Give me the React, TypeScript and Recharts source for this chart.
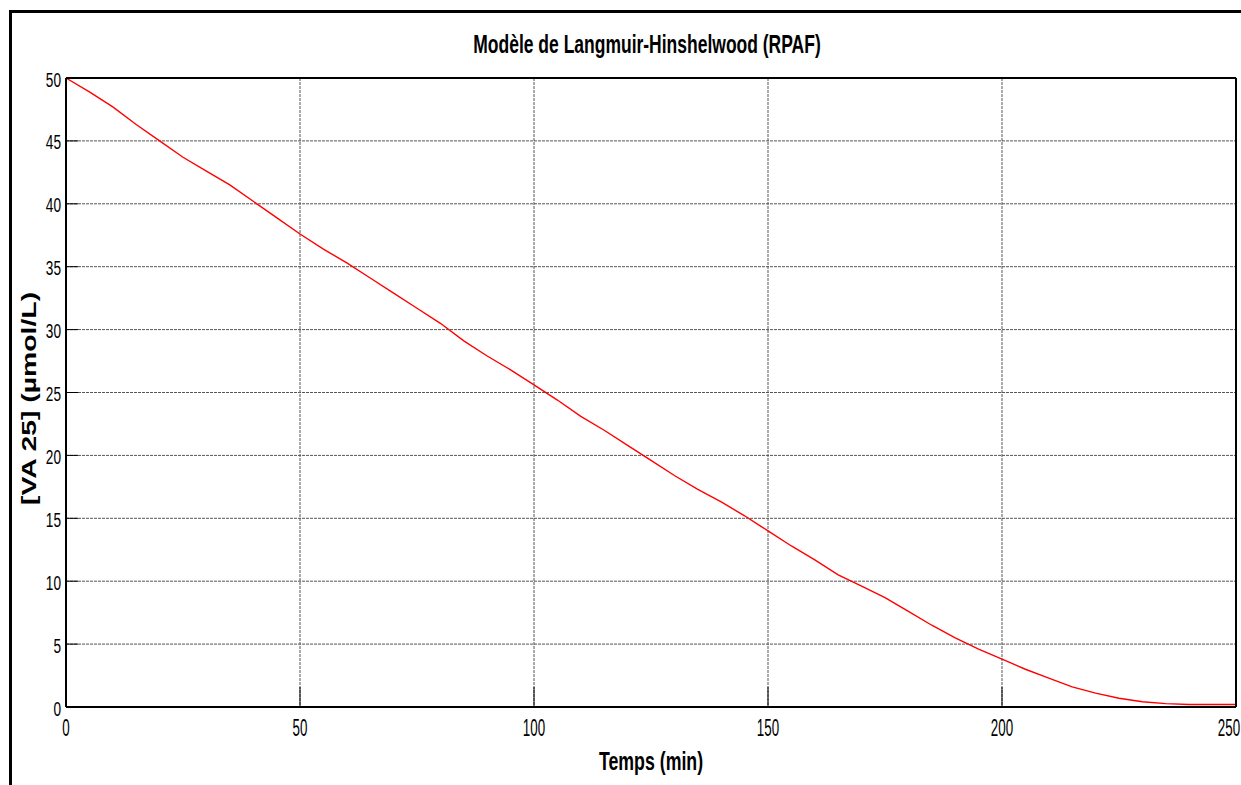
import { LineChart, Line, XAxis, YAxis, CartesianGrid, Label } from "recharts";

const times = [
  0, 5, 10, 15, 20, 25, 30, 35, 40, 45, 50, 55, 60, 65, 70, 75, 80, 85, 90, 95, 100, 105, 110, 115, 120, 125,
  130, 135, 140, 145, 150, 155, 160, 165, 170, 175, 180, 185, 190, 195, 200, 205, 210, 215, 220, 225, 230, 235,
  240, 245, 250,
];
const conc = [
  50, 48.9, 47.7, 46.3, 45.0, 43.7, 42.6, 41.5, 40.2, 38.9, 37.6, 36.4, 35.3, 34.1, 32.9, 31.7, 30.5, 29.1, 27.9,
  26.8, 25.6, 24.4, 23.1, 22.0, 20.8, 19.6, 18.4, 17.3, 16.3, 15.2, 14.0, 12.8, 11.7, 10.5, 9.6, 8.7, 7.6, 6.5, 5.5,
  4.6, 3.8, 3.0, 2.3, 1.6, 1.1, 0.7, 0.42, 0.27, 0.2, 0.2, 0.2,
];
const xTicks = [0, 50, 100, 150, 200, 250];
const yTicks = [0, 5, 10, 15, 20, 25, 30, 35, 40, 45, 50];

const data = times.map((t, i) => ({ t, c: conc[i] }));

const FONT = '"Liberation Sans", Arial, sans-serif';

const XTick = ({ x, y, payload }: any) => (
  <text transform={`translate(${x},${y}) scale(0.58,1)`} textAnchor="middle" fontFamily={FONT} fontSize={23} fill="#000">
    {payload.value}
  </text>
);

const YTick = ({ x, y, payload }: any) => (
  <text transform={`translate(${x},${y}) scale(0.65,1)`} textAnchor="end" dy={8.5} fontFamily={FONT} fontSize={21} fill="#000">
    {payload.value}
  </text>
);

const XTitle = ({ viewBox }: any) => (
  <text
    transform={`translate(${viewBox.x + viewBox.width / 2},${viewBox.y + 63}) scale(0.71,1)`}
    textAnchor="middle"
    fontFamily={FONT}
    fontWeight="bold"
    fontSize={25}
    fill="#000"
  >
    Temps (min)
  </text>
);

// y title: wide bold face, centred a little under the plot middle
const YTitle = ({ viewBox }: any) => (
  <text
    transform={`translate(28,${viewBox.y + viewBox.height / 2 + 6}) rotate(-90) scale(1.35,1)`}
    textAnchor="middle"
    dy={7.5}
    fontFamily={FONT}
    fontWeight="bold"
    fontSize={21}
    fill="#000"
  >
    [VA 25] (µmol/L)
  </text>
);

export default function App() {
  return (
    <div style={{ position: "absolute", left: 0, top: 0, width: 1241, height: 785, background: "#fff" }}>
      <LineChart width={1241} height={785} data={data} margin={{ top: 77, right: 4, bottom: 0, left: 0 }}>
        <CartesianGrid stroke="#555" strokeDasharray="3 1" strokeWidth={1} />
        <XAxis
          dataKey="t"
          type="number"
          domain={[0, 250]}
          ticks={xTicks}
          height={78}
          tickSize={-20}
          tickMargin={49}
          tick={<XTick />}
          axisLine={{ stroke: "#000", strokeWidth: 2 }}
          tickLine={{ stroke: "#000" }}
        >
          <Label content={<XTitle />} />
        </XAxis>
        <XAxis
          xAxisId="top"
          orientation="top"
          dataKey="t"
          type="number"
          domain={[0, 250]}
          ticks={xTicks}
          height={1}
          tickSize={-20}
          tick={false}
          axisLine={{ stroke: "#000", strokeWidth: 2 }}
          tickLine={{ stroke: "#000" }}
        />
        <YAxis
          type="number"
          domain={[0, 50]}
          ticks={yTicks}
          width={66}
          tickSize={-12}
          tickMargin={17}
          tick={<YTick />}
          axisLine={{ stroke: "#000", strokeWidth: 2 }}
          tickLine={{ stroke: "#000" }}
        >
          <Label content={<YTitle />} />
        </YAxis>
        <YAxis
          yAxisId="right"
          orientation="right"
          type="number"
          domain={[0, 50]}
          ticks={yTicks}
          width={1}
          tickSize={-12}
          tick={false}
          axisLine={{ stroke: "#000", strokeWidth: 2 }}
          tickLine={{ stroke: "#000" }}
        />
        <Line type="linear" dataKey="c" stroke="#ff0000" strokeWidth={1.4} dot={false} isAnimationActive={false} />
      </LineChart>
      <svg width={1241} height={785} style={{ position: "absolute", left: 0, top: 0, pointerEvents: "none" }}>
        <line x1={10.5} y1={10} x2={10.5} y2={785} stroke="#000" strokeWidth={3} />
        <line x1={9} y1={11.5} x2={1241} y2={11.5} stroke="#000" strokeWidth={3} />
        <text
          transform="translate(647,53) scale(0.7,1)"
          textAnchor="middle"
          fontFamily={FONT}
          fontWeight="bold"
          fontSize={25}
          fill="#000"
        >
          Modèle de Langmuir-Hinshelwood (RPAF)
        </text>
      </svg>
    </div>
  );
}
